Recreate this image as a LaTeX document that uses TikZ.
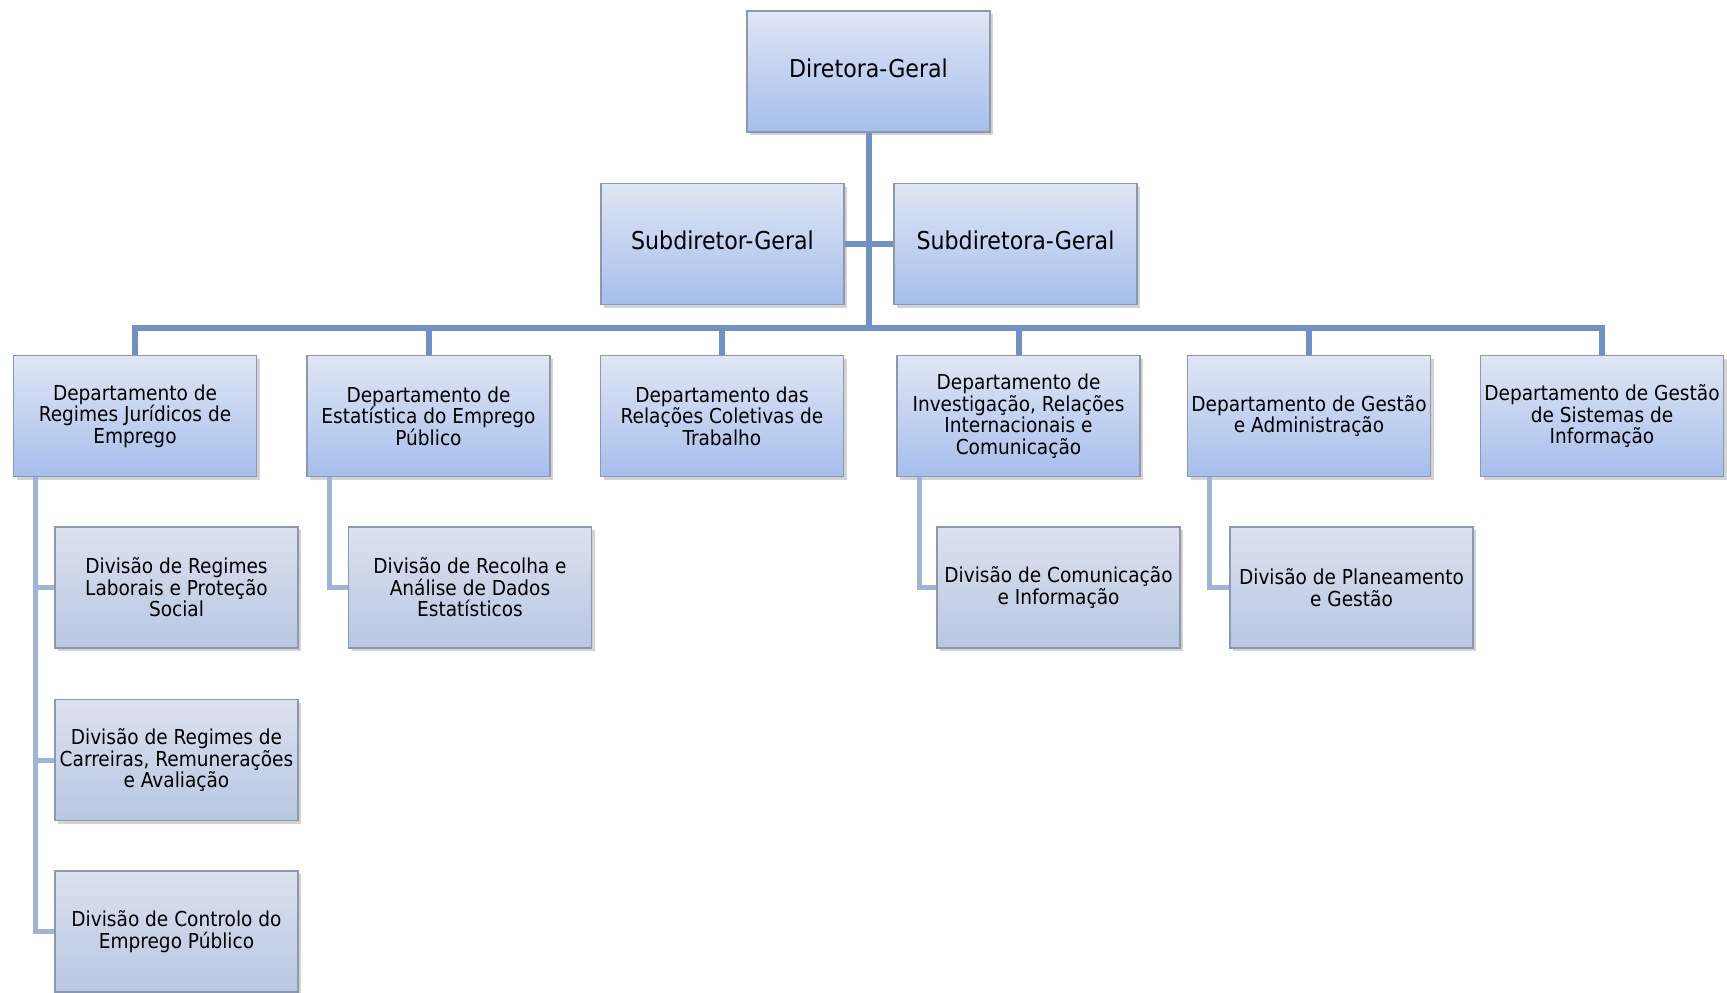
\documentclass[tikz,border=0pt]{standalone}
\usepackage{fontspec}
\setmainfont{DejaVu Sans Condensed}
\usetikzlibrary{shadows}

\definecolor{boxline}{RGB}{140,152,172}
\definecolor{boxtop}{RGB}{224,230,244}
\definecolor{boxbot}{RGB}{166,190,236}
\definecolor{divtop}{RGB}{220,225,237}
\definecolor{divbot}{RGB}{184,199,228}
\definecolor{busblue}{RGB}{112,145,200}
\definecolor{linkblue}{RGB}{160,180,216}

\begin{document}
\begin{tikzpicture}[
       x=0.5pt, y=-0.5pt,
       box/.style={draw=boxline, line width=0.6pt, top color=boxtop, bottom color=boxbot,
           minimum width=121.5pt, minimum height=60.5pt, inner sep=0pt, align=center,
           drop shadow={shadow xshift=1.5pt, shadow yshift=-1.5pt, opacity=0.35}},
       chief/.style={box, text depth=3.8pt, font=\fontsize{12.3}{14}\selectfont},
       dept/.style={box, font=\fontsize{10.3}{10.8}\selectfont},
       divn/.style={dept, top color=divtop, bottom color=divbot},
       bus/.style={draw=busblue, line width=3pt},
       link/.style={draw=linkblue, line width=2.5pt}
   ]

   \useasboundingbox (0,0) rectangle (1727,992);

   \node[chief] (dg) at (868.5,71.5) {Diretora-Geral};
   \node[chief] (sdg1) at (722.5,244) {Subdiretor-Geral};
   \node[chief] (sdg2) at (1015.5,244) {Subdiretora-Geral};

   \foreach \n/\x/\txt in {
       1/135/{Departamento de\\Regimes Jurídicos de\\Emprego},
       2/428.5/{Departamento de\\Estatística do Emprego\\Público},
       3/722/{Departamento das\\Relações Coletivas de\\Trabalho},
       4/1018.5/{Departamento de\\Investigação, Relações\\Internacionais e\\Comunicação},
       5/1309/{Departamento de Gestão\\e Administração},
       6/1602/{Departamento de Gestão\\de Sistemas de\\Informação}} {
       \node[dept] (dep\n) at (\x,416) {\txt};
   }

   \node[divn] (div11) at (176.5,587.5) {Divisão de Regimes\\Laborais e Proteção\\Social};
   \node[divn] (div12) at (176.5,760) {Divisão de Regimes de\\Carreiras, Remunerações\\e Avaliação};
   \node[divn] (div13) at (176.5,931.5) {Divisão de Controlo do\\Emprego Público};
   \node[divn] (div21) at (470,587.5) {Divisão de Recolha e\\Análise de Dados\\Estatísticos};
   \node[divn] (div41) at (1058.5,587.5) {Divisão de Comunicação\\e Informação};
   \node[divn] (div51) at (1351.5,587.5) {Divisão de Planeamento\\e Gestão};

   \coordinate (hub) at (868.5,328);
   \draw[bus] (dg.south) -- (hub);
   \draw[bus] (sdg1.east) -- (sdg2.west);
   \foreach \n in {1,...,6} {
       \draw[bus] (hub) -| (dep\n.north);
   }

   \foreach \d/\v in {1/11,1/12,1/13,2/21,4/41,5/51} {
       \draw[link] ([xshift=11.5pt]dep\d.south west) |- (div\v.west);
   }
   \end{tikzpicture}
\end{document}
